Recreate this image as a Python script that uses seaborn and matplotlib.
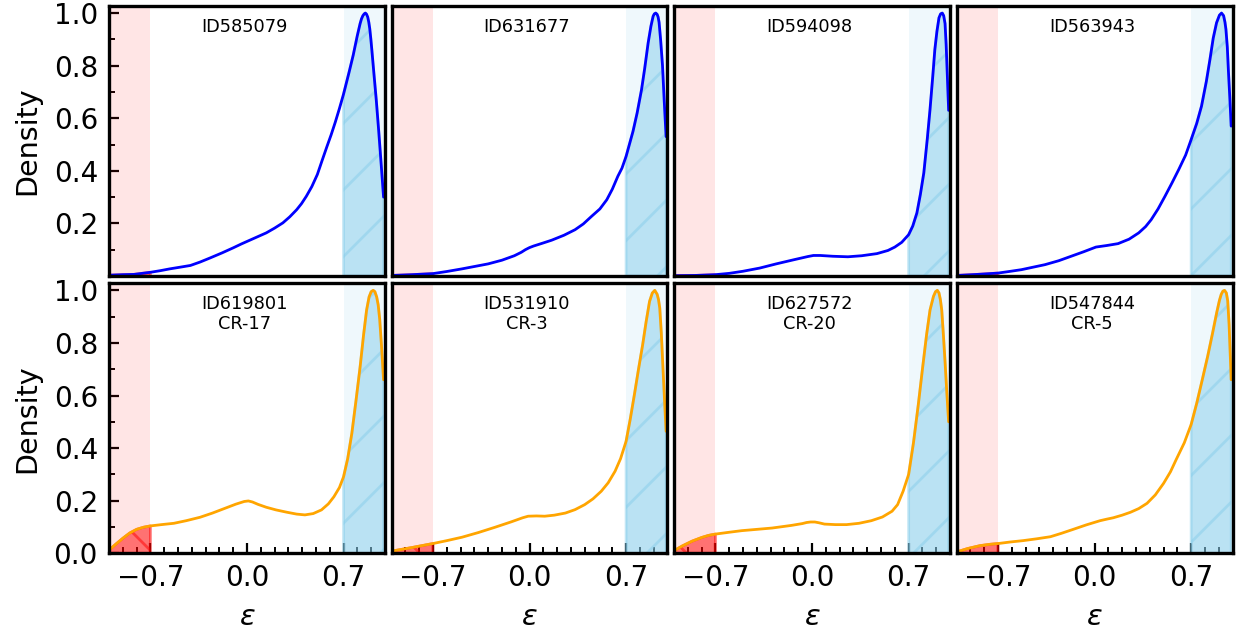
import numpy as np
import matplotlib
matplotlib.use("Agg")
import matplotlib.pyplot as plt
from matplotlib.ticker import MultipleLocator, FixedLocator
import seaborn as sns

# Normalised density curves of the ellipticity parameter for each source
eps_585079 = [-1.0, -0.9, -0.82, -0.7, -0.63, -0.56, -0.49, -0.41, -0.34, -0.27, -0.18, -0.10, -0.04, 0.02, 0.08,
              0.14, 0.20, 0.26, 0.31, 0.36, 0.395, 0.43, 0.47, 0.51, 0.545, 0.58, 0.61, 0.64, 0.67, 0.70,
              0.74, 0.77, 0.80, 0.82, 0.83, 0.84, 0.85, 0.858, 0.866, 0.875, 0.883, 0.89, 0.898, 0.905, 0.92,
              0.937, 0.955, 0.972, 0.99]
dens_585079 = [0.003, 0.005, 0.006, 0.014, 0.020, 0.027, 0.033, 0.040, 0.053, 0.068, 0.088, 0.107, 0.122, 0.136, 0.150,
               0.164, 0.182, 0.202, 0.225, 0.252, 0.275, 0.303, 0.34, 0.386, 0.44, 0.493, 0.537, 0.585, 0.637, 0.692,
               0.775, 0.84, 0.915, 0.96, 0.978, 0.99, 0.997, 1.0, 0.996, 0.985, 0.965, 0.94, 0.90, 0.86, 0.77,
               0.67, 0.55, 0.43, 0.30]

eps_631677 = [-1.0, -0.85, -0.7, -0.6, -0.49, -0.40, -0.30, -0.20, -0.11, -0.06, -0.03, 0.0, 0.03, 0.09, 0.16,
              0.25, 0.33, 0.39, 0.45, 0.51, 0.56, 0.60, 0.64, 0.67, 0.70, 0.75, 0.78, 0.812, 0.835, 0.86,
              0.88, 0.896, 0.905, 0.915, 0.925, 0.932, 0.939, 0.95, 0.964, 0.976, 0.99]
dens_631677 = [0.002, 0.005, 0.009, 0.017, 0.027, 0.036, 0.046, 0.060, 0.077, 0.090, 0.100, 0.108, 0.114, 0.124, 0.136,
               0.155, 0.176, 0.198, 0.227, 0.255, 0.290, 0.330, 0.379, 0.41, 0.455, 0.55, 0.62, 0.709, 0.79, 0.887,
               0.95, 0.988, 0.997, 1.0, 0.995, 0.985, 0.965, 0.90, 0.80, 0.67, 0.53]

eps_594098 = [-1.0, -0.85, -0.7, -0.60, -0.50, -0.38, -0.26, -0.13, -0.03, 0.01, 0.06, 0.15, 0.26, 0.36, 0.47,
              0.55, 0.60, 0.65, 0.70, 0.73, 0.76, 0.785, 0.81, 0.835, 0.855, 0.875, 0.89, 0.905, 0.92, 0.932,
              0.944, 0.954, 0.964, 0.972, 0.98, 0.99]
dens_594098 = [0.001, 0.002, 0.005, 0.010, 0.018, 0.030, 0.046, 0.062, 0.074, 0.078, 0.078, 0.075, 0.073, 0.077, 0.085,
               0.097, 0.110, 0.128, 0.157, 0.19, 0.240, 0.31, 0.392, 0.52, 0.633, 0.76, 0.861, 0.93, 0.982, 0.997,
               1.0, 0.99, 0.96, 0.88, 0.77, 0.63]

eps_563943 = [-1.0, -0.85, -0.7, -0.62, -0.53, -0.45, -0.36, -0.26, -0.17, -0.08, 0.01, 0.09, 0.17, 0.25, 0.32,
              0.37, 0.41, 0.46, 0.51, 0.56, 0.61, 0.66, 0.70, 0.74, 0.775, 0.81, 0.836, 0.86, 0.884, 0.905,
              0.92, 0.935, 0.945, 0.952, 0.962, 0.97, 0.98, 0.99]
dens_563943 = [0.002, 0.006, 0.011, 0.017, 0.024, 0.033, 0.043, 0.058, 0.075, 0.092, 0.110, 0.116, 0.123, 0.140, 0.164,
               0.188, 0.214, 0.255, 0.303, 0.353, 0.405, 0.46, 0.519, 0.58, 0.646, 0.74, 0.823, 0.905, 0.963, 0.992,
               1.0, 0.99, 0.965, 0.938, 0.87, 0.78, 0.68, 0.57]

eps_619801 = [-1.0, -0.95, -0.9, -0.85, -0.8, -0.75, -0.7, -0.62, -0.53, -0.44, -0.34, -0.25, -0.15, -0.08, -0.05,
              -0.02, 0.01, 0.04, 0.08, 0.14, 0.21, 0.29, 0.36, 0.42, 0.48, 0.54, 0.59, 0.63, 0.67, 0.70,
              0.73, 0.76, 0.79, 0.82, 0.845, 0.867, 0.885, 0.9, 0.915, 0.927, 0.94, 0.951, 0.962, 0.975, 0.99]
dens_619801 = [0.012, 0.035, 0.057, 0.077, 0.091, 0.099, 0.104, 0.109, 0.114, 0.124, 0.137, 0.153, 0.173, 0.187, 0.192,
               0.197, 0.199, 0.195, 0.186, 0.175, 0.165, 0.156, 0.149, 0.146, 0.151, 0.165, 0.188, 0.215, 0.25, 0.291,
               0.36, 0.456, 0.58, 0.709, 0.83, 0.925, 0.975, 0.995, 1.0, 0.995, 0.975, 0.945, 0.89, 0.79, 0.66]

eps_531910 = [-1.0, -0.85, -0.7, -0.6, -0.49, -0.37, -0.25, -0.13, -0.05, -0.01, 0.05, 0.11, 0.18, 0.26, 0.33,
              0.40, 0.46, 0.52, 0.57, 0.62, 0.66, 0.70, 0.73, 0.76, 0.79, 0.82, 0.845, 0.87, 0.89, 0.908,
              0.925, 0.935, 0.944, 0.955, 0.965, 0.977, 0.99]
dens_531910 = [0.008, 0.022, 0.037, 0.048, 0.061, 0.079, 0.099, 0.120, 0.135, 0.141, 0.142, 0.141, 0.145, 0.153, 0.166,
               0.185, 0.207, 0.236, 0.268, 0.312, 0.36, 0.426, 0.51, 0.603, 0.70, 0.793, 0.88, 0.958, 0.99, 1.0,
               0.985, 0.965, 0.933, 0.84, 0.73, 0.60, 0.464]

eps_627572 = [-1.0, -0.94, -0.87, -0.8, -0.75, -0.7, -0.6, -0.51, -0.4, -0.29, -0.15, -0.07, -0.04, -0.01, 0.02,
              0.05, 0.09, 0.17, 0.25, 0.34, 0.43, 0.51, 0.58, 0.62, 0.66, 0.70, 0.735, 0.77, 0.80, 0.83,
              0.855, 0.88, 0.895, 0.908, 0.92, 0.93, 0.94, 0.952, 0.965, 0.977, 0.99]
dens_627572 = [0.010, 0.028, 0.046, 0.060, 0.068, 0.073, 0.080, 0.086, 0.091, 0.096, 0.106, 0.113, 0.117, 0.119, 0.119,
               0.116, 0.111, 0.109, 0.109, 0.114, 0.124, 0.138, 0.160, 0.185, 0.236, 0.30, 0.42, 0.565, 0.70, 0.831,
               0.925, 0.977, 0.995, 1.0, 0.99, 0.965, 0.925, 0.83, 0.72, 0.61, 0.50]

eps_547844 = [-1.0, -0.92, -0.83, -0.76, -0.7, -0.61, -0.52, -0.42, -0.32, -0.24, -0.155, -0.06, 0.04, 0.09, 0.135,
              0.2, 0.26, 0.32, 0.38, 0.44, 0.50, 0.55, 0.59, 0.65, 0.70, 0.74, 0.78, 0.82, 0.855, 0.885,
              0.905, 0.918, 0.93, 0.942, 0.955, 0.965, 0.975, 0.983, 0.99]
dens_547844 = [0.005, 0.018, 0.029, 0.034, 0.037, 0.043, 0.048, 0.055, 0.063, 0.076, 0.091, 0.108, 0.124, 0.130, 0.135,
               0.145, 0.156, 0.170, 0.190, 0.222, 0.266, 0.310, 0.355, 0.42, 0.49, 0.57, 0.659, 0.75, 0.837, 0.915,
               0.962, 0.985, 0.997, 1.0, 0.99, 0.96, 0.87, 0.76, 0.66]

top_labels = ["ID585079", "ID631677", "ID594098", "ID563943"]
bottom_labels = ["ID619801\nCR-17", "ID531910\nCR-3", "ID627572\nCR-20", "ID547844\nCR-5"]

top_curves = [(eps_585079, dens_585079), (eps_631677, dens_631677),
              (eps_594098, dens_594098), (eps_563943, dens_563943)]
bottom_curves = [(eps_619801, dens_619801), (eps_531910, dens_531910),
                 (eps_627572, dens_627572), (eps_547844, dens_547844)]

x_major = [-0.7, 0.0, 0.7]
x_ticklabels = ["\u22120.7", "0.0", "0.7"]
y_major_top = [0.2, 0.4, 0.6, 0.8, 1.0]
y_major_bottom = [0.0, 0.2, 0.4, 0.6, 0.8, 1.0]
threshold = 0.7

sns.set_style("white")
plt.rcParams["font.family"] = ["DejaVu Sans"]
plt.rcParams["hatch.linewidth"] = 1.0
plt.rcParams["text.color"] = "black"
plt.rcParams["axes.labelcolor"] = "black"

fig, axes = plt.subplots(2, 4, figsize=(6.195, 3.175), dpi=200)
fig.subplots_adjust(left=0.088, right=0.9948, top=0.9906, bottom=0.1287,
                    wspace=0.024, hspace=0.027)

rows = [(top_curves, top_labels, "blue", y_major_top),
        (bottom_curves, bottom_labels, "orange", y_major_bottom)]

for r, (curves, labels, line_color, y_major) in enumerate(rows):
    for c in range(4):
        ax = axes[r, c]
        x = np.asarray(curves[c][0])
        y = np.asarray(curves[c][1])

        # tail regions
        ax.axvspan(-1.0, -threshold, color="red", alpha=0.1, lw=0)
        ax.axvspan(threshold, 1.0, color="skyblue", alpha=0.13, lw=0)

        # area under the curve inside each tail
        ax.fill_between(x, 0, y, where=x >= threshold, color="skyblue",
                        alpha=0.5, hatch="/", lw=1.0)
        ax.fill_between(x, 0, y, where=x <= -threshold, color="red",
                        alpha=0.5, hatch="\\", lw=1.0)

        sns.lineplot(x=x, y=y, ax=ax, color=line_color, lw=1.0,
                     estimator=None, sort=False)

        ax.text(0.49, 0.955, labels[c], transform=ax.transAxes, color="black",
                ha="center", va="top", fontsize=6.4, linespacing=1.1)

        ax.set_xlim(-1.0, 1.0)
        ax.set_ylim(0.0, 1.027)
        ax.xaxis.set_major_locator(FixedLocator(x_major))
        ax.xaxis.set_minor_locator(MultipleLocator(0.1))
        ax.yaxis.set_major_locator(FixedLocator(y_major))
        ax.yaxis.set_minor_locator(MultipleLocator(0.1))

        for side in ax.spines.values():
            side.set_visible(True)
            side.set_color("black")
            side.set_linewidth(1.2)

        show_x = r == 1
        show_y = c == 0
        ax.tick_params(axis="both", which="both", direction="in",
                       top=False, right=False, colors="black", labelsize=10, pad=4)
        ax.tick_params(axis="x", which="both", bottom=show_x, labelbottom=show_x)
        ax.tick_params(axis="y", which="both", left=show_y, labelleft=show_y)
        ax.tick_params(which="major", length=3.6, width=0.8)
        ax.tick_params(which="minor", length=2.0, width=0.7)

        if show_x:
            ax.set_xticklabels(x_ticklabels)
            ax.set_xlabel(r"$\varepsilon$", fontsize=10.5, labelpad=4)
        else:
            ax.set_xlabel("")

        if show_y:
            ax.set_ylabel("Density", fontsize=10.3, labelpad=4.5)
        else:
            ax.set_ylabel("")

fig.savefig("out.png", dpi=200)
